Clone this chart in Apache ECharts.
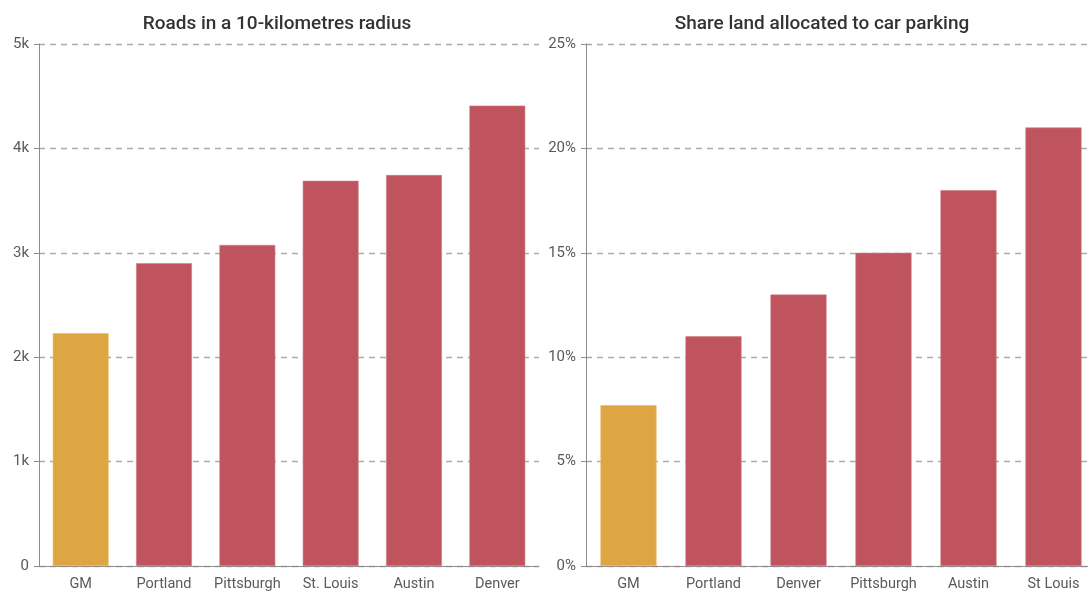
<!DOCTYPE html>
<html>
<head>
<meta charset="utf-8">
<script src="https://cdn.jsdelivr.net/npm/echarts@6/dist/echarts.min.js"></script>
<style>
  html, body { margin: 0; padding: 0; background: #fff; }
  #chart { width: 1088px; height: 591px; }
</style>
</head>
<body>
<div id="chart"></div>
<script>
const roadCities = ['GM', 'Portland', 'Pittsburgh', 'St. Louis', 'Austin', 'Denver']
const roadValues = [2230, 2900, 3075, 3690, 3745, 4410]
const parkCities = ['GM', 'Portland', 'Denver', 'Pittsburgh', 'Austin', 'St Louis']
const parkValues = [7.7, 11, 13, 15, 18, 21]

const GOLD = '#dea642'
const RED = '#bf545e'
const textColor = '#5a5a5a'
const font = 'Roboto, "Noto Sans", sans-serif'

// first bar (GM) gold, rest red
const colorBars = (vals) => vals.map((v, i) => ({
  value: v,
  itemStyle: { color: i === 0 ? GOLD : RED, borderColor: i === 0 ? '#e8bd6d' : '#d27c84', borderWidth: 0.6 },
}))

const yAxisBase = {
  type: 'value',
  min: 0,
  axisLine: { show: true, lineStyle: { color: '#8c8c8c' } },
  axisTick: { show: true, length: 5, lineStyle: { color: '#8c8c8c' } },
  axisLabel: { color: textColor, fontSize: 15, fontFamily: font, margin: 10 },
  splitLine: { lineStyle: { color: '#ababab', type: [6, 5], width: 1.4 } },
}
const xAxisBase = {
  type: 'category',
  axisLine: { lineStyle: { color: '#8c8c8c' } },
  axisTick: { show: false },
  axisLabel: { color: textColor, fontSize: 14.5, fontFamily: font, margin: 11, interval: 0 },
}

const option = {
  animation: false,
  title: [
    { text: 'Roads in a 10-kilometres radius', left: 272, top: 10, textAlign: 'center',
      textStyle: { color: '#333', fontSize: 19, fontWeight: 500, fontFamily: font } },
    { text: 'Share land allocated to car parking', left: 817, top: 10, textAlign: 'center',
      textStyle: { color: '#333', fontSize: 19, fontWeight: 500, fontFamily: font } },
  ],
  grid: [
    { left: 39, width: 500, top: 44, bottom: 25, outerBoundsMode: 'none' },
    // the right chart runs a little past the page edge
    { left: 586, width: 510, top: 44, bottom: 25, outerBoundsMode: 'none' },
  ],
  xAxis: [
    { ...xAxisBase, gridIndex: 0, data: roadCities },
    { ...xAxisBase, gridIndex: 1, data: parkCities },
  ],
  yAxis: [
    { ...yAxisBase, gridIndex: 0, max: 5000, interval: 1000,
      axisLabel: { ...yAxisBase.axisLabel, formatter: (v) => (v === 0 ? '0' : v / 1000 + 'k') } },
    { ...yAxisBase, gridIndex: 1, max: 25, interval: 5,
      axisLabel: { ...yAxisBase.axisLabel, formatter: '{value}%' } },
  ],
  series: [
    { type: 'bar', xAxisIndex: 0, yAxisIndex: 0, barWidth: '67%', data: colorBars(roadValues) },
    { type: 'bar', xAxisIndex: 1, yAxisIndex: 1, barWidth: '66%', data: colorBars(parkValues) },
  ],
}

const myChart = echarts.init(document.getElementById('chart'))
myChart.setOption(option)
</script>
</body>
</html>
